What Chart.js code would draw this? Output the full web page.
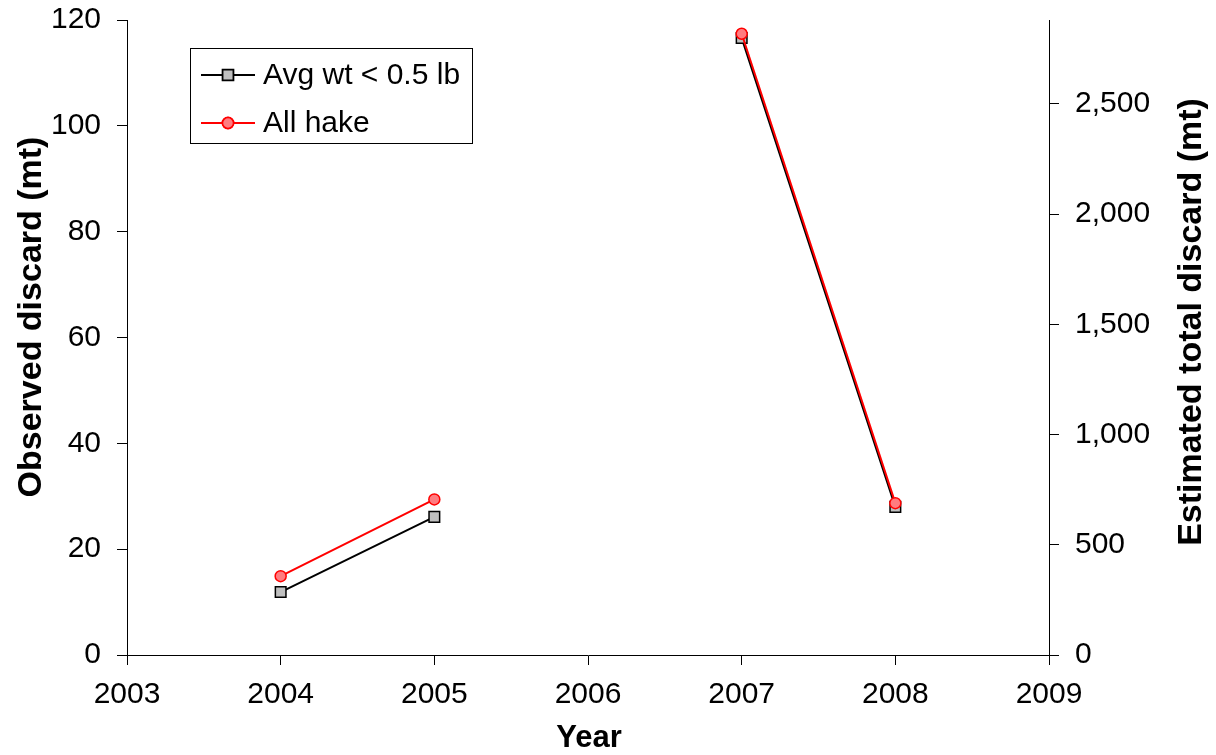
<!DOCTYPE html>
<html>
<head>
<meta charset="utf-8">
<script src="https://cdn.jsdelivr.net/npm/chart.js@4/dist/chart.umd.min.js"></script>
<style>
  html, body { margin: 0; padding: 0; background: #ffffff; }
  #wrap { width: 1216px; height: 755px; }
</style>
</head>
<body>
<div id="wrap"><canvas id="c" width="1216" height="755"></canvas></div>
<script>
// Discard by year; 2006 has no observations, so the lines break there.
const years = [2004, 2005, 2006, 2007, 2008];
const smallHake = [11.9, 26.1, null, 116.6, 28.0];   // Avg wt < 0.5 lb
const allHake = [14.9, 29.4, null, 117.4, 28.7];     // All hake
const seriesNames = ['Avg wt < 0.5 lb', 'All hake'];
const leftTicks = [0, 20, 40, 60, 80, 100, 120];
const rightTicks = [0, 500, 1000, 1500, 2000, 2500];
const yearTicks = [2003, 2004, 2005, 2006, 2007, 2008, 2009];
const axisTitles = { x: 'Year', left: 'Observed discard (mt)', right: 'Estimated total discard (mt)' };

const FONT = "'Liberation Sans', Arial, sans-serif";
const toPoints = vals => years.map((yr, i) => ({ x: yr, y: vals[i] }));

// Axis titles (both vertical titles read bottom-to-top)
const axisTitlePlugin = {
  id: 'axisTitlePlugin',
  afterDraw(chart) {
    const ctx = chart.ctx;
    ctx.save();
    ctx.fillStyle = '#000000';
    ctx.textAlign = 'center';
    ctx.textBaseline = 'middle';
    ctx.font = 'bold 31px ' + FONT;
    ctx.fillText(axisTitles.x, 589, 738);
    [[axisTitles.left, 32, 317, 34], [axisTitles.right, 1192, 322, 34]].forEach(([t, x, y, size]) => {
      ctx.save();
      ctx.font = 'bold ' + size + 'px ' + FONT;
      ctx.translate(x, y);
      ctx.rotate(-Math.PI / 2);
      ctx.fillText(t, 0, 0);
      ctx.restore();
    });
    ctx.restore();
  }
};

// Boxed legend drawn inside the plot area
const boxLegend = {
  id: 'boxLegend',
  afterDraw(chart) {
    const ctx = chart.ctx;
    const x0 = 190, y0 = 48, w = 282, h = 95;
    ctx.save();
    ctx.fillStyle = '#ffffff';
    ctx.fillRect(x0, y0, w, h);
    ctx.strokeStyle = '#000000';
    ctx.lineWidth = 1;
    ctx.strokeRect(x0 + 0.5, y0 + 0.5, w, h);
    [0, 1].forEach((idx, r) => {
      const ds = chart.data.datasets[idx];
      const cy = y0 + 27 + r * 48;
      ctx.strokeStyle = ds.borderColor;
      ctx.lineWidth = 2;
      ctx.beginPath();
      ctx.moveTo(201, cy);
      ctx.lineTo(255, cy);
      ctx.stroke();
      Chart.helpers.drawPoint(ctx, {
        pointStyle: ds.pointStyle,
        radius: ds.pointRadius,
        borderWidth: ds.pointBorderWidth,
        rotation: 0
      }, 228, cy);
      ctx.fillStyle = ds.pointBackgroundColor;
      ctx.strokeStyle = ds.pointBorderColor;
      ctx.lineWidth = ds.pointBorderWidth;
      ctx.fill();
      ctx.stroke();
      ctx.fillStyle = '#000000';
      ctx.font = '30px ' + FONT;
      ctx.textBaseline = 'middle';
      ctx.textAlign = 'left';
      ctx.fillText(ds.label, 263, cy + 1);
    });
    ctx.restore();
  }
};

const axisCommon = {
  border: { display: true, color: '#000000', width: 1 },
  grid: { drawOnChartArea: false, drawTicks: true, tickLength: 10, color: '#000000', lineWidth: 1 },
};
const tickFont = { family: FONT, size: 30 };
const fixWidth = w => s => { s.width = w; s.paddingTop = 0; s.paddingBottom = 0; };

new Chart(document.getElementById('c'), {
  type: 'line',
  data: {
    datasets: [
      {
        label: seriesNames[0],
        data: toPoints(smallHake),
        yAxisID: 'y',
        borderColor: '#000000',
        borderWidth: 2,
        pointStyle: 'rect',
        pointRadius: 7.5,
        pointBackgroundColor: '#c0c0c0',
        pointBorderColor: '#000000',
        pointBorderWidth: 1.5,
        spanGaps: false,
        order: 1
      },
      {
        label: seriesNames[1],
        data: toPoints(allHake),
        yAxisID: 'y',
        borderColor: '#ff0000',
        borderWidth: 2,
        pointStyle: 'circle',
        pointRadius: 5.5,
        pointBackgroundColor: '#ff7c80',
        pointBorderColor: '#ff0000',
        pointBorderWidth: 1.5,
        spanGaps: false,
        order: 0
      }
    ]
  },
  options: {
    responsive: false,
    animation: false,
    devicePixelRatio: 1,
    layout: { padding: { top: 20, left: 0, right: 0, bottom: 0 } },
    plugins: { legend: { display: false }, tooltip: { enabled: false } },
    scales: {
      x: {
        ...axisCommon,
        type: 'linear',
        min: yearTicks[0],
        max: yearTicks[yearTicks.length - 1],
        afterBuildTicks: s => { s.ticks = yearTicks.map(v => ({ value: v })); },
        ticks: { color: '#000000', font: tickFont, padding: 12, maxRotation: 0, callback: v => String(v) },
        afterFit: s => { s.height = 100; s.paddingLeft = 0; s.paddingRight = 0; }
      },
      y: {
        ...axisCommon,
        position: 'left',
        min: 0,
        max: 120,
        afterBuildTicks: s => { s.ticks = leftTicks.map(v => ({ value: v })); },
        ticks: { color: '#000000', font: tickFont, padding: 16, callback: v => String(v) },
        afterFit: fixWidth(127)
      },
      y2: {
        ...axisCommon,
        display: true,
        position: 'right',
        min: 0,
        max: 2880,
        afterBuildTicks: s => { s.ticks = rightTicks.map(v => ({ value: v })); },
        ticks: { color: '#000000', font: tickFont, padding: 16, callback: v => v.toLocaleString('en-US') },
        afterFit: fixWidth(167)
      }
    }
  },
  plugins: [boxLegend, axisTitlePlugin]
});
</script>
</body>
</html>
